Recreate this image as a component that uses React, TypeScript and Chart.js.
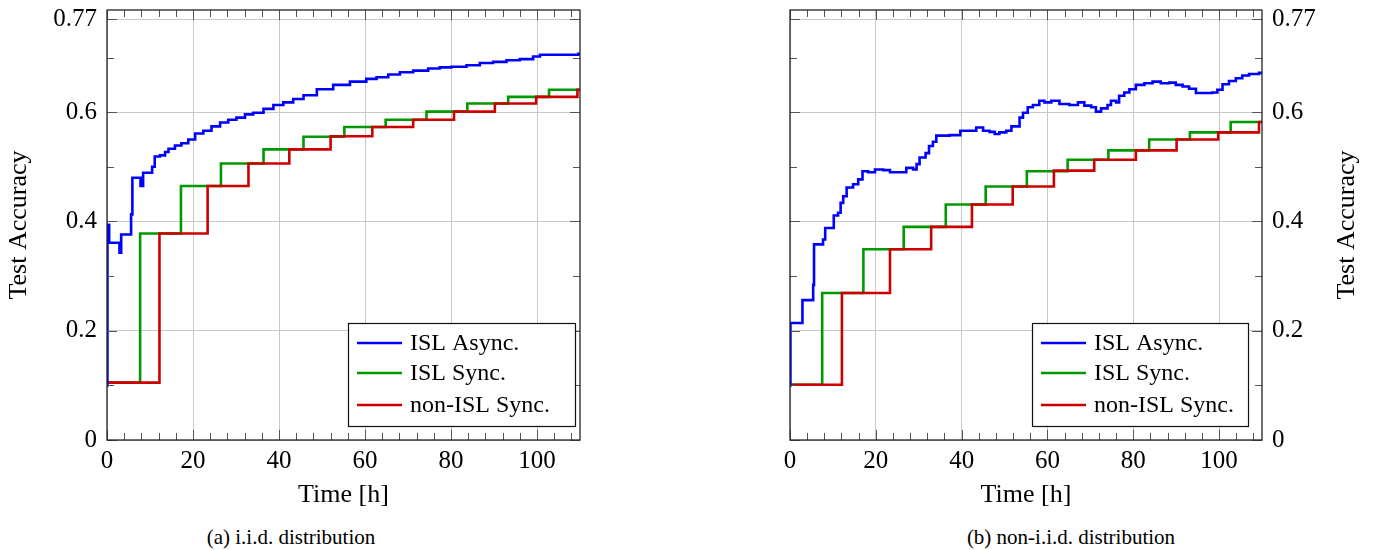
import React, { useEffect, useRef } from "react";
import { Chart, registerables } from "chart.js";
Chart.register(...registerables);

const X_MAX = 110;
const Y_MAX = 0.787;
const xMajorTicks = [0, 20, 40, 60, 80, 100];
const xMinorTicks = [4, 8, 12, 16, 24, 28, 32, 36, 44, 48, 52, 56, 64, 68, 72, 76, 84, 88, 92, 96, 104, 108];
const yMajorTicks = [0, 0.2, 0.4, 0.6, 0.77];
const yTickLabels = ["0", "0.2", "0.4", "0.6", "0.77"];
const yMinorTicks = [0.1, 0.3, 0.5, 0.7];
const legendLabels = ["ISL Async.", "ISL Sync.", "non-ISL Sync."];
const seriesColors = ["#0000ff", "#009900", "#cc0000"];
const xTitle = "Time [h]";
const yTitle = "Test Accuracy";
const captions = ["(a) i.i.d. distribution", "(b) non-i.i.d. distribution"];

// (a) i.i.d.
const iidAsyncT = [0, 0.1, 0.5, 2.9, 3.3, 5.6, 5.9, 7.8, 8.4, 10.5, 11.1, 12.3, 13.5, 14.3, 15.8, 17.3, 18.9, 20.5, 22.4, 24.3, 26.3, 28.2, 30.1, 32.1, 34.0, 36.4, 38.7, 41.0, 43.3, 45.7, 48.8, 52.6, 56.5, 60.3, 62.7, 65.4, 68.1, 71.2, 74.7, 77.4, 80.1, 83.6, 86.7, 89.8, 92.9, 96.0, 99.1, 100.7, 106.9, 109.6, 110];
const iidAsyncV = [0.100, 0.394, 0.361, 0.343, 0.376, 0.413, 0.480, 0.465, 0.489, 0.500, 0.519, 0.521, 0.527, 0.533, 0.539, 0.543, 0.550, 0.561, 0.566, 0.574, 0.581, 0.586, 0.590, 0.596, 0.599, 0.606, 0.613, 0.618, 0.624, 0.631, 0.642, 0.650, 0.656, 0.661, 0.664, 0.669, 0.673, 0.676, 0.680, 0.682, 0.683, 0.686, 0.690, 0.692, 0.695, 0.697, 0.702, 0.705, 0.705, 0.707, 0.707];
const iidSyncT = [0, 7.7, 17.2, 26.5, 36.4, 45.7, 55.2, 64.8, 74.3, 83.8, 93.3, 102.8, 110];
const iidSyncV = [0.105, 0.378, 0.465, 0.506, 0.532, 0.555, 0.573, 0.586, 0.601, 0.616, 0.628, 0.641, 0.641];
const iidNonIslT = [0, 12.2, 23.4, 32.9, 42.4, 52.0, 61.7, 71.2, 80.7, 90.2, 99.8, 109.4, 110];
const iidNonIslV = [0.105, 0.378, 0.465, 0.506, 0.532, 0.556, 0.573, 0.586, 0.601, 0.616, 0.628, 0.641, 0.641];

// (b) non-i.i.d.
const nonIidAsyncT = [0, 0.1, 2.9, 5.4, 5.6, 7.7, 8.2, 10.2, 11.2, 11.8, 12.4, 13.2, 14.7, 15.9, 16.9, 18.2, 19.8, 21.7, 23.3, 27.1, 28.7, 29.5, 30.2, 31.6, 32.4, 33.3, 34.1, 37.2, 39.7, 43.4, 45.0, 46.5, 47.7, 48.8, 50.4, 51.6, 53.5, 54.3, 55.4, 56.6, 58.1, 59.3, 60.9, 62.8, 65.1, 67.1, 68.6, 70.2, 71.3, 72.5, 74.0, 74.8, 76.0, 76.7, 77.9, 79.1, 80.6, 82.6, 84.5, 86.4, 88.4, 89.9, 91.5, 93.0, 94.6, 98.4, 99.6, 100.8, 102.3, 103.9, 105.4, 107.0, 109.3, 110];
const nonIidAsyncV = [0.100, 0.214, 0.256, 0.284, 0.358, 0.367, 0.388, 0.411, 0.416, 0.434, 0.446, 0.462, 0.468, 0.477, 0.492, 0.490, 0.495, 0.494, 0.490, 0.498, 0.495, 0.505, 0.517, 0.525, 0.538, 0.546, 0.557, 0.558, 0.566, 0.572, 0.566, 0.564, 0.560, 0.563, 0.566, 0.574, 0.590, 0.599, 0.609, 0.613, 0.621, 0.618, 0.621, 0.615, 0.613, 0.618, 0.612, 0.609, 0.601, 0.607, 0.613, 0.621, 0.618, 0.630, 0.636, 0.642, 0.650, 0.653, 0.656, 0.653, 0.654, 0.650, 0.647, 0.643, 0.635, 0.636, 0.641, 0.651, 0.657, 0.662, 0.667, 0.670, 0.672, 0.672];
const nonIidSyncT = [0, 7.5, 17.1, 26.5, 36.3, 45.6, 55.2, 64.7, 74.2, 83.7, 93.2, 102.7, 110];
const nonIidSyncV = [0.101, 0.269, 0.349, 0.390, 0.431, 0.464, 0.492, 0.513, 0.530, 0.550, 0.563, 0.582, 0.582];
const nonIidNonIslT = [0, 12.1, 23.3, 32.9, 42.4, 51.9, 61.5, 70.9, 80.6, 90.1, 99.8, 109.3, 110];
const nonIidNonIslV = [0.101, 0.269, 0.349, 0.390, 0.431, 0.464, 0.493, 0.513, 0.530, 0.550, 0.563, 0.582, 0.582];

const SERIF = '"Liberation Serif", "DejaVu Serif", serif';

function zip(t: number[], v: number[]) {
  return t.map((x, i) => ({ x, y: v[i] }));
}

function makeDatasets(series: [number[], number[]][]) {
  return series.map(([t, v], i) => ({
    label: legendLabels[i],
    data: zip(t, v),
    borderColor: seriesColors[i],
    backgroundColor: seriesColors[i],
    borderWidth: 2.6,
    pointRadius: 0,
    stepped: "before" as const,
    fill: false,
    order: i === 0 ? 0 : i === 2 ? 1 : 2,
  }));
}

function framePlugin() {
  return {
    id: "frameTicks",
    afterDatasetsDraw(chart: any) {
      const { ctx, chartArea: a, scales } = chart;
      const xs = scales.x;
      const ys = scales.y;
      ctx.save();
      ctx.strokeStyle = "#555";
      ctx.lineWidth = 1;
      ctx.beginPath();
      const xt = (v: number, len: number) => {
        const px = Math.round(xs.getPixelForValue(v)) + 0.5;
        ctx.moveTo(px, a.bottom);
        ctx.lineTo(px, a.bottom - len);
        ctx.moveTo(px, a.top);
        ctx.lineTo(px, a.top + len);
      };
      const yt = (v: number, len: number) => {
        const py = Math.round(ys.getPixelForValue(v)) + 0.5;
        ctx.moveTo(a.left, py);
        ctx.lineTo(a.left + len, py);
        ctx.moveTo(a.right, py);
        ctx.lineTo(a.right - len, py);
      };
      xMinorTicks.forEach((v) => xt(v, 7));
      xMajorTicks.forEach((v) => xt(v, 10));
      yMinorTicks.forEach((v) => yt(v, 7));
      yMajorTicks.forEach((v) => yt(v, 10));
      ctx.stroke();
      ctx.strokeStyle = "#222";
      ctx.lineWidth = 1.3;
      ctx.strokeRect(a.left, a.top, a.right - a.left, a.bottom - a.top);
      ctx.restore();
    },
  };
}

function legendPlugin(rightInset: number, boxW: number, titleRightX: number | null) {
  return {
    id: "customLegend",
    afterDraw(chart: any) {
      const { ctx, chartArea: a } = chart;
      const boxH = 103;
      const right = a.right - rightInset;
      const bottom = a.bottom - 14;
      const left = right - boxW;
      const top = bottom - boxH;
      ctx.save();
      ctx.fillStyle = "#fff";
      ctx.fillRect(left, top, boxW, boxH);
      ctx.strokeStyle = "#111";
      ctx.lineWidth = 1.2;
      ctx.strokeRect(left + 0.5, top + 0.5, boxW, boxH);
      const rows = [20, 50, 82];
      legendLabels.forEach((lab, i) => {
        const y = top + rows[i];
        ctx.strokeStyle = seriesColors[i];
        ctx.lineWidth = 2.6;
        ctx.beginPath();
        ctx.moveTo(left + 9, y);
        ctx.lineTo(left + 54, y);
        ctx.stroke();
        ctx.fillStyle = "#000";
        ctx.font = `24px ${SERIF}`;
        ctx.textBaseline = "middle";
        ctx.textAlign = "left";
        ctx.fillText(lab, left + 62, y + 1);
      });
      if (titleRightX !== null) {
        ctx.translate(titleRightX, (a.top + a.bottom) / 2);
        ctx.rotate(-Math.PI / 2);
        ctx.font = `26px ${SERIF}`;
        ctx.textAlign = "center";
        ctx.textBaseline = "middle";
        ctx.fillStyle = "#000";
        ctx.fillText(yTitle, 0, 0);
      }
      ctx.restore();
    },
  };
}

function makeConfig(side: "left" | "right", series: [number[], number[]][]) {
  const isLeft = side === "left";
  return {
    type: "line" as const,
    data: { datasets: makeDatasets(series) },
    options: {
      animation: false as const,
      responsive: false,
      devicePixelRatio: 1,
      layout: {
        padding: isLeft
          ? { top: 10, right: 110, left: 0, bottom: 0 }
          : { top: 10, right: 0, left: 100, bottom: 0 },
      },
      plugins: { legend: { display: false }, tooltip: { enabled: false } },
      scales: {
        x: {
          type: "linear" as const,
          min: 0,
          max: X_MAX,
          afterFit: (s: any) => {
            s.height = 80;
            s.paddingLeft = 0;
            s.paddingRight = 0;
          },
          afterBuildTicks: (s: any) => {
            s.ticks = xMajorTicks.map((value) => ({ value }));
          },
          ticks: {
            color: "#000",
            font: { family: SERIF, size: 25 },
            padding: 6,
            maxRotation: 0,
            callback: (v: any) => String(v),
          },
          grid: { color: "#c8c8c8", lineWidth: 1, drawTicks: false },
          border: { display: false },
          title: {
            display: true,
            text: xTitle,
            color: "#000",
            font: { family: SERIF, size: 26 },
            padding: { top: 0, bottom: 9 },
          },
        },
        y: {
          type: "linear" as const,
          position: isLeft ? ("left" as const) : ("right" as const),
          min: 0,
          max: Y_MAX,
          afterFit: (s: any) => {
            s.width = isLeft ? 107 : 123;
            s.paddingTop = 0;
            s.paddingBottom = 0;
          },
          afterBuildTicks: (s: any) => {
            s.ticks = yMajorTicks.map((value) => ({ value }));
          },
          ticks: {
            color: "#000",
            font: { family: SERIF, size: 25 },
            padding: 10,
            callback: (_v: any, i: number) => yTickLabels[i],
          },
          grid: { color: "#c8c8c8", lineWidth: 1, drawTicks: false },
          border: { display: false },
          title: {
            display: isLeft,
            text: yTitle,
            color: "#000",
            font: { family: SERIF, size: 26 },
            padding: { top: 4, bottom: 0 },
          },
        },
      },
    },
    plugins: [framePlugin(), isLeft ? legendPlugin(5, 227, null) : legendPlugin(14, 216, 657)],
  };
}

function ChartCanvas(props: { side: "left" | "right"; series: [number[], number[]][]; left: number; width: number }) {
  const ref = useRef<HTMLCanvasElement | null>(null);
  useEffect(() => {
    if (!ref.current) return;
    const chart = new Chart(ref.current, makeConfig(props.side, props.series) as any);
    return () => chart.destroy();
  }, []);
  return (
    <canvas
      ref={ref}
      width={props.width}
      height={520}
      style={{ position: "absolute", left: props.left, top: 0, width: props.width, height: 520 }}
    />
  );
}

export default function App() {
  const capStyle = (cx: number): React.CSSProperties => ({
    position: "absolute",
    left: cx - 200,
    width: 400,
    top: 524,
    textAlign: "center",
    fontFamily: SERIF,
    fontSize: 21,
    lineHeight: "26px",
    color: "#000",
  });
  return (
    <div style={{ position: "absolute", left: 0, top: 0, width: 1385, height: 550, background: "#fff", overflow: "hidden" }}>
      <ChartCanvas
        side="left"
        left={0}
        width={690}
        series={[
          [iidAsyncT, iidAsyncV],
          [iidSyncT, iidSyncV],
          [iidNonIslT, iidNonIslV],
        ]}
      />
      <ChartCanvas
        side="right"
        left={690}
        width={695}
        series={[
          [nonIidAsyncT, nonIidAsyncV],
          [nonIidSyncT, nonIidSyncV],
          [nonIidNonIslT, nonIidNonIslV],
        ]}
      />
      <div style={capStyle(291)}>{captions[0]}</div>
      <div style={capStyle(1071)}>{captions[1]}</div>
    </div>
  );
}
